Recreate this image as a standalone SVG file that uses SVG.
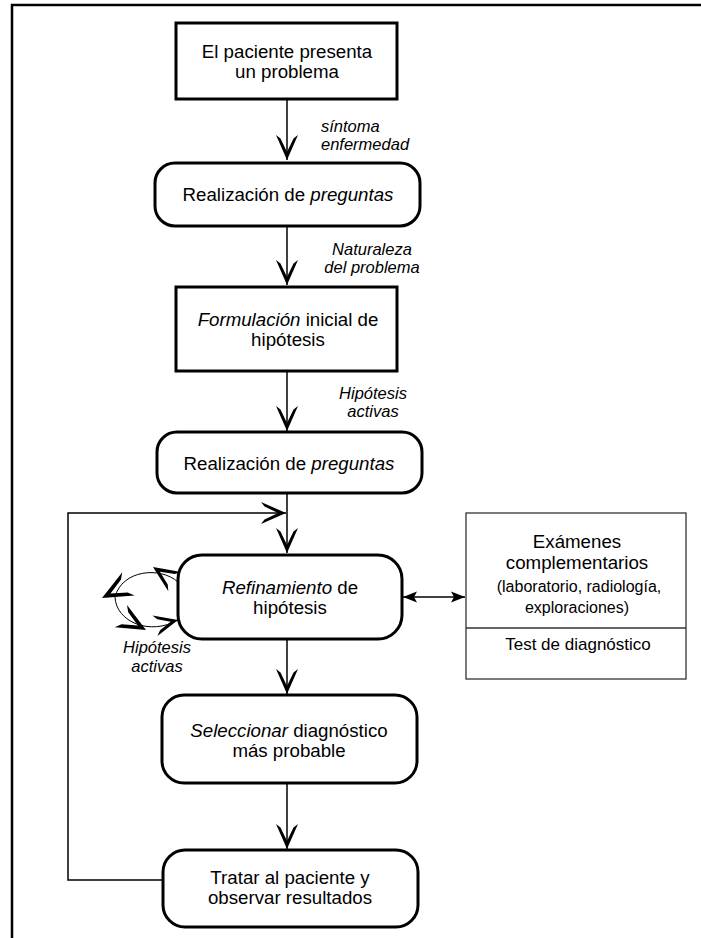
<svg xmlns="http://www.w3.org/2000/svg" width="701" height="938" viewBox="0 0 701 938">
  <style>
    .box { fill: #fff; stroke: #000; stroke-width: 3; }
    .side { fill: #fff; stroke: #333; stroke-width: 1.3; }
    .t { font-family: "Liberation Sans", Arial, sans-serif; font-size: 18.7px; fill: #000; text-anchor: middle; }
    .s { font-size: 16px; }
    .m { font-size: 17px; }
    .lbl { font-family: "Liberation Sans", Arial, sans-serif; font-size: 16.5px; font-style: italic; fill: #000; text-anchor: middle; }
    .start { text-anchor: start; }
    .i { font-style: italic; }
    .wire { fill: none; stroke: #000; stroke-width: 1.5; }
    .thin { fill: none; stroke: #000; stroke-width: 1; }
  </style>
  <defs>
    <marker id="dartHead" viewBox="-27 -12 28 24" refX="0" refY="0" markerWidth="28" markerHeight="24" markerUnits="userSpaceOnUse" orient="auto" overflow="visible">
      <path d="M0,0 L-25,-11 L-21.5,-6.5 L-8,0 L-21.5,6.5 L-25,11 Z" fill="#000"/>
    </marker>
    <marker id="triHead" viewBox="-15 -6 16 12" refX="0" refY="0" markerWidth="16" markerHeight="12" markerUnits="userSpaceOnUse" orient="auto-start-reverse" overflow="visible">
      <path d="M0,0 L-14,-5.5 L-11,0 L-14,5.5 Z" fill="#000"/>
    </marker>
    <path id="dart" d="M0,0 L-25,-11 L-21,-6 L-8,0 L-21,6 L-25,11 Z" fill="#000"/>
  </defs>

  <!-- page frame -->
  <path d="M12,938 V5 H701" fill="none" stroke="#000" stroke-width="2.5"/>

  <!-- connectors -->
  <g id="connectors">
    <line class="wire" x1="287" y1="99" x2="287" y2="160" marker-end="url(#dartHead)"/>
    <line class="wire" x1="287" y1="226" x2="287" y2="285" marker-end="url(#dartHead)"/>
    <line class="wire" x1="287" y1="371" x2="287" y2="431" marker-end="url(#dartHead)"/>
    <line class="wire" x1="287" y1="493" x2="287" y2="553" marker-end="url(#dartHead)"/>
    <line class="wire" x1="287" y1="639" x2="287" y2="694" marker-end="url(#dartHead)"/>
    <line class="wire" x1="287" y1="783" x2="287" y2="849" marker-end="url(#dartHead)"/>
    <!-- feedback loop back to the refinement step -->
    <polyline class="wire" points="163,880 68,880 68,513 286,513" marker-end="url(#dartHead)"/>
    <!-- link to complementary exams -->
    <line class="wire" x1="403" y1="597" x2="465" y2="597" marker-start="url(#triHead)" marker-end="url(#triHead)"/>
    <!-- active hypotheses self loop -->
    <path class="thin" d="M178,582 C160,566 122,570 115,597 C116,622 150,636 178,620"/>
    <use href="#dart" transform="translate(153,567) rotate(214) scale(1.05)"/>
    <use href="#dart" transform="translate(102,598) rotate(152) scale(1.2)"/>
    <use href="#dart" transform="translate(146,630) rotate(29) scale(1.15)"/>
    <use href="#dart" transform="translate(178,620) rotate(-14) scale(0.95)"/>
  </g>

  <g id="n1">
    <rect class="box" x="176" y="23" width="221" height="76"/>
    <text class="t" x="287" y="58">El paciente presenta</text>
    <text class="t" x="287" y="78">un problema</text>
  </g>
  <g id="l1">
    <text class="lbl start" x="321" y="132">síntoma</text>
    <text class="lbl start" x="321" y="150">enfermedad</text>
  </g>

  <g id="n2">
    <rect class="box" x="155" y="163" width="265" height="63" rx="20"/>
    <text class="t" x="288" y="201">Realización de <tspan class="i">preguntas</tspan></text>
  </g>
  <g id="l2">
    <text class="lbl" x="372" y="255">Naturaleza</text>
    <text class="lbl" x="372" y="273">del problema</text>
  </g>

  <g id="n3">
    <rect class="box" x="176" y="287" width="221" height="84"/>
    <text class="t" x="288" y="326"><tspan class="i">Formulación</tspan> inicial de</text>
    <text class="t" x="288" y="346">hipótesis</text>
  </g>
  <g id="l3">
    <text class="lbl" x="373" y="399">Hipótesis</text>
    <text class="lbl" x="373" y="417">activas</text>
  </g>

  <g id="n4">
    <rect class="box" x="157" y="432" width="265" height="61" rx="20"/>
    <text class="t" x="289" y="470">Realización de <tspan class="i">preguntas</tspan></text>
  </g>

  <g id="n5">
    <rect class="box" x="178" y="555" width="224" height="84" rx="24"/>
    <text class="t" x="290" y="594"><tspan class="i">Refinamiento</tspan> de</text>
    <text class="t" x="290" y="614">hipótesis</text>
  </g>
  <g id="l5">
    <text class="lbl" x="157" y="653">Hipótesis</text>
    <text class="lbl" x="157" y="672">activas</text>
  </g>

  <g id="exams">
    <rect class="side" x="466" y="513" width="220" height="166"/>
    <line class="side" x1="466" y1="628" x2="686" y2="628"/>
    <text class="t" x="577" y="548">Exámenes</text>
    <text class="t" x="577" y="569">complementarios</text>
    <text class="t s" x="579" y="592">(laboratorio, radiología,</text>
    <text class="t s" x="577" y="613">exploraciones)</text>
    <text class="t m" x="578" y="650">Test de diagnóstico</text>
  </g>

  <g id="n6">
    <rect class="box" x="162" y="695" width="255" height="88" rx="22"/>
    <text class="t" x="289" y="737"><tspan class="i">Seleccionar</tspan> diagnóstico</text>
    <text class="t" x="289" y="757">más probable</text>
  </g>

  <g id="n7">
    <rect class="box" x="163" y="850" width="255" height="77" rx="22"/>
    <text class="t" x="290" y="884">Tratar al paciente y</text>
    <text class="t" x="290" y="904">observar resultados</text>
  </g>
</svg>
